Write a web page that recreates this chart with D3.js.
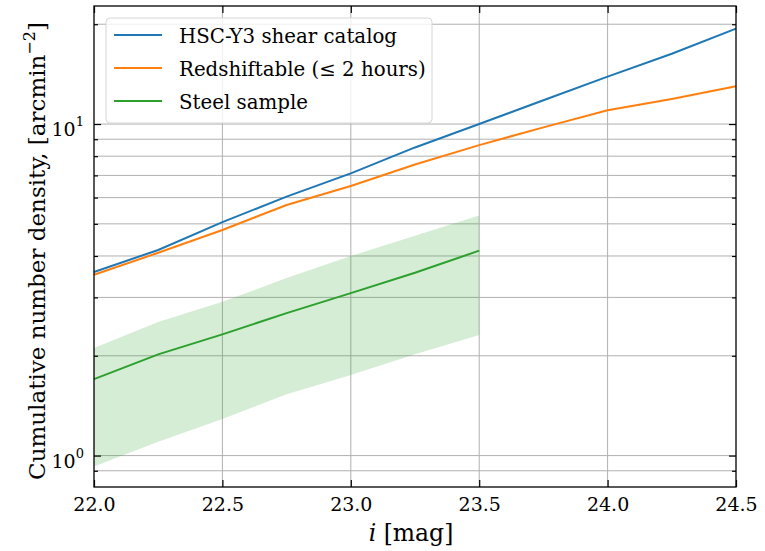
<!DOCTYPE html>
<html>
<head>
<meta charset="utf-8">
<script src="https://d3js.org/d3.v7.min.js"></script>
<style>
  body { margin: 0; background: #fff; }
  svg text { font-family: "DejaVu Serif", serif; fill: #000; }
</style>
</head>
<body>
<div id="chart"></div>
<script>
// magnitudes (x) and cumulative densities
const mag = [22.0, 22.25, 22.5, 22.75, 23.0, 23.25, 23.5, 23.75, 24.0, 24.25, 24.5];
const hscY3 = [3.58, 4.17, 5.06, 6.04, 7.10, 8.50, 10.0, 11.8, 13.9, 16.3, 19.4];
const redshiftable = [3.51, 4.09, 4.79, 5.70, 6.50, 7.55, 8.64, 9.77, 11.0, 11.9, 13.0];

const steelMag = [22.0, 22.25, 22.5, 22.75, 23.0, 23.25, 23.5];
const steel = [1.70, 2.02, 2.32, 2.69, 3.09, 3.56, 4.15];
const steelHigh = [2.11, 2.53, 2.91, 3.43, 4.00, 4.60, 5.30];
const steelLow = [0.927, 1.10, 1.29, 1.53, 1.75, 2.02, 2.31];

const xTicks = [22.0, 22.5, 23.0, 23.5, 24.0, 24.5];
const yMajor = [1, 10];
const yMinor = [0.9, 2, 3, 4, 5, 6, 7, 8, 9, 20];

const legendLabels = ["HSC-Y3 shear catalog", "Redshiftable (\u2264 2 hours)", "Steel sample"];
const colors = ["#1f77b4", "#ff7f0e", "#2ca02c"];

const width = 765;
const height = 551;
const margin = { top: 6, right: 29, bottom: 64, left: 94 };
const innerW = width - margin.left - margin.right;
const innerH = height - margin.top - margin.bottom;

const svg = d3.select("#chart")
  .append("svg")
  .attr("width", width)
  .attr("height", height)
  .attr("font-family", "DejaVu Serif, serif");

const x = d3.scaleLinear().domain([22.0, 24.5]).range([0, innerW]);
const y = d3.scaleLog().domain([0.804, 22.7]).range([innerH, 0]);

const g = svg.append("g")
  .attr("transform", `translate(${margin.left},${margin.top})`);

// grid (major + minor on y, major on x)
g.selectAll(".ygrid")
  .data(yMajor.concat(yMinor))
  .enter().append("line")
  .attr("x1", 0).attr("x2", innerW)
  .attr("y1", d => y(d)).attr("y2", d => y(d))
  .attr("stroke", "#b0b0b0").attr("stroke-width", 1);

g.selectAll(".xgrid")
  .data(xTicks.slice(1, -1))
  .enter().append("line")
  .attr("x1", d => x(d)).attr("x2", d => x(d))
  .attr("y1", 0).attr("y2", innerH)
  .attr("stroke", "#b0b0b0").attr("stroke-width", 1);

// steel sample band
const area = d3.area()
  .x((d, i) => x(steelMag[i]))
  .y0((d, i) => y(steelLow[i]))
  .y1((d, i) => y(steelHigh[i]));

g.append("path")
  .datum(steel)
  .attr("d", area)
  .attr("fill", colors[2])
  .attr("fill-opacity", 0.2);

const line = d3.line()
  .x(d => x(d[0]))
  .y(d => y(d[1]));

const series = [
  d3.zip(mag, hscY3),
  d3.zip(mag, redshiftable),
  d3.zip(steelMag, steel)
];

g.selectAll(".series")
  .data(series)
  .enter().append("path")
  .attr("d", line)
  .attr("fill", "none")
  .attr("stroke", (d, i) => colors[i])
  .attr("stroke-width", 2);

// axes, ticks pointing inwards on all four sides
const major = 7;
const minor = 4;

g.append("g")
  .attr("transform", `translate(0,${innerH})`)
  .call(d3.axisBottom(x).tickValues(xTicks).tickSize(-major).tickFormat(d3.format(".1f")).tickPadding(10))
  .call(a => a.select(".domain").remove())
  .selectAll("text").attr("font-size", 19).attr("dy", "0.75em");

g.append("g")
  .call(d3.axisTop(x).tickValues(xTicks).tickSize(-major).tickFormat(""))
  .call(a => a.select(".domain").remove());

g.append("g")
  .call(d3.axisLeft(y).tickValues(yMajor).tickSize(-major).tickFormat(""))
  .call(a => a.select(".domain").remove());
g.append("g")
  .call(d3.axisLeft(y).tickValues(yMinor).tickSize(-minor).tickFormat(""))
  .call(a => a.select(".domain").remove());

g.append("g")
  .attr("transform", `translate(${innerW},0)`)
  .call(d3.axisRight(y).tickValues(yMajor).tickSize(-major).tickFormat(""))
  .call(a => a.select(".domain").remove());
g.append("g")
  .attr("transform", `translate(${innerW},0)`)
  .call(d3.axisRight(y).tickValues(yMinor).tickSize(-minor).tickFormat(""))
  .call(a => a.select(".domain").remove());

g.selectAll(".tick line").attr("stroke", "#000").attr("stroke-width", 1.2);

// y labels as 10^n
const yLab = g.selectAll(".ylab")
  .data(yMajor)
  .enter().append("text")
  .attr("x", -10)
  .attr("y", d => y(d) + 12)
  .attr("text-anchor", "end")
  .attr("font-size", 19);
yLab.append("tspan").text("10");
yLab.append("tspan")
  .attr("font-size", 13)
  .attr("dy", -10)
  .text(d => Math.round(Math.log10(d)));

// frame
g.append("rect")
  .attr("width", innerW).attr("height", innerH)
  .attr("fill", "none").attr("stroke", "#000").attr("stroke-width", 1.3);

// axis titles
const xTitle = svg.append("text")
  .attr("x", margin.left + innerW / 2 - 4)
  .attr("y", 541)
  .attr("text-anchor", "middle")
  .attr("font-size", 23.5);
xTitle.append("tspan").attr("font-style", "italic").text("i");
xTitle.append("tspan").text(" [mag]");

const yTitle = svg.append("text")
  .attr("transform", `translate(45,251) rotate(-90)`)
  .attr("text-anchor", "middle")
  .attr("font-size", 23);
yTitle.append("tspan").text("Cumulative number density, [arcmin");
yTitle.append("tspan").attr("font-size", 16).attr("dy", -10).text("\u22122");
yTitle.append("tspan").attr("dy", 10).text("]");

// legend
const legend = svg.append("g").attr("transform", "translate(106,18)");

legend.append("rect")
  .attr("width", 326).attr("height", 105)
  .attr("rx", 4)
  .attr("fill", "#fff").attr("fill-opacity", 0.8)
  .attr("stroke", "#d6d6d6").attr("stroke-width", 1);

const items = legend.selectAll(".item")
  .data(legendLabels)
  .enter().append("g")
  .attr("transform", (d, i) => `translate(0,${17 + i * 33})`);

items.append("line")
  .attr("x1", 8).attr("x2", 56)
  .attr("stroke", (d, i) => colors[i])
  .attr("stroke-width", 2);

items.append("text")
  .attr("x", 73)
  .attr("y", 8)
  .attr("font-size", 19.8)
  .text(d => d);
</script>
</body>
</html>
